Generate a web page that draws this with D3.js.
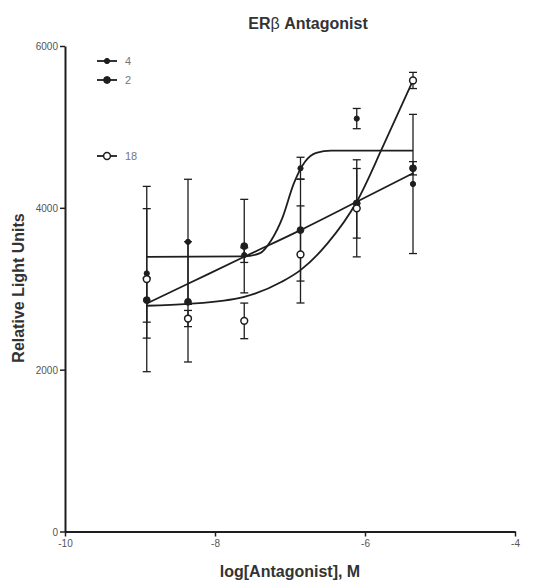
<!DOCTYPE html>
<html>
<head>
<meta charset="utf-8">
<script src="https://cdn.jsdelivr.net/npm/d3@7"></script>
<style>
  body { margin: 0; background: #fff; }
  svg { display: block; font-family: Arial, "Liberation Sans", sans-serif; }
</style>
</head>
<body>
<div id="chart"></div>
<script>
// concentrations, log[M]
const logConc = [-8.91, -8.36, -7.61, -6.86, -6.11, -5.36];

// mean relative light units per series
const series4 = [3190, 3580, 3416, 4489, 5103, 4295];
const series2 = [2860, 2838, 3527, 3725, 4056, 4489];
const series18 = [3120, 2632, 2603, 3424, 3994, 5574];

// error (SD) per series
const err4 = [800, 773, 91, 136, 125, 860];
const err2 = [273, 743, 578, 630, 430, 82];
const err18 = [1145, 100, 220, 600, 600, 100];

// fitted curves
const fit4X = [-8.91, -7.61, -7.4, -7.25, -7.1, -6.95, -6.8, -6.65, -6.45, -5.36];
const fit4Y = [3395, 3400, 3440, 3600, 3880, 4300, 4570, 4680, 4707, 4707];
const fit2X = [-8.91, -8.36, -7.61, -6.86, -6.11, -5.36];
const fit2Y = [2818, 3062, 3395, 3725, 4075, 4427];
const fit18X = [-8.91, -8.36, -7.61, -7.11, -6.86, -6.5, -6.11, -5.75, -5.36];
const fit18Y = [2790, 2812, 2900, 3086, 3230, 3560, 4075, 4780, 5574];

const xTicks = [-10, -8, -6, -4];
const yTicks = [0, 2000, 4000, 6000];

const width = 559;
const height = 580;
const ink = "#1e1e1e";

const svg = d3.select("#chart").append("svg")
    .attr("width", width)
    .attr("height", height);

const x = d3.scaleLinear().domain([-10, -4]).range([65, 515]);
const y = d3.scaleLinear().domain([0, 6000]).range([531.5, 46]);

// plain hyphen minus like the original
const fmt = d => String(d);

// title
const title = svg.append("text")
    .attr("x", 308)
    .attr("y", 29)
    .attr("text-anchor", "middle")
    .style("font-size", "16px")
    .style("font-weight", "bold")
    .style("fill", "#333");
title.append("tspan").text("ER");
title.append("tspan").style("font-weight", "normal").text("β");
title.append("tspan").text(" Antagonist");

// axes
const xAxis = svg.append("g")
    .attr("transform", `translate(0,${y(0)})`)
    .call(d3.axisBottom(x).tickValues(xTicks).tickFormat(fmt).tickSize(5).tickPadding(3).tickSizeOuter(0));
const yAxis = svg.append("g")
    .attr("transform", `translate(${x(-10)},0)`)
    .call(d3.axisLeft(y).tickValues(yTicks).tickFormat(fmt).tickSize(5).tickPadding(2).tickSizeOuter(0));

[xAxis, yAxis].forEach(g => {
    g.select(".domain").attr("stroke", ink).attr("stroke-width", 2);
    g.selectAll(".tick line").attr("stroke", ink).attr("stroke-width", 1.5);
    g.selectAll(".tick text")
        .attr("fill", "#555")
        .style("font-size", "10px")
        .style("font-family", "Arial, 'Liberation Sans', sans-serif");
});
yAxis.selectAll(".tick text").attr("dy", "0.35em");

// axis titles
svg.append("text")
    .attr("x", 290)
    .attr("y", 577)
    .attr("text-anchor", "middle")
    .style("font-size", "16px")
    .style("font-weight", "bold")
    .style("fill", "#333")
    .text("log[Antagonist], M");

svg.append("text")
    .attr("transform", "translate(23.5,288) rotate(-90)")
    .attr("text-anchor", "middle")
    .style("font-size", "16px")
    .style("font-weight", "bold")
    .style("fill", "#333")
    .text("Relative Light Units");

// fitted curves
const line = d3.line()
    .x(d => x(d[0]))
    .y(d => y(d[1]))
    .curve(d3.curveMonotoneX);

[[fit4X, fit4Y], [fit2X, fit2Y], [fit18X, fit18Y]].forEach(([fx, fy]) => {
    svg.append("path")
        .datum(fx.map((v, i) => [v, fy[i]]))
        .attr("d", line)
        .attr("fill", "none")
        .attr("stroke", ink)
        .attr("stroke-width", 1.8);
});

const seriesList = [
    { name: "4", values: series4, err: err4, r: 2.6, open: false, legendY: 61 },
    { name: "2", values: series2, err: err2, r: 3.4, open: false, legendY: 80 },
    { name: "18", values: series18, err: err18, r: 3.4, open: true, legendY: 156 }
];

// error bars
seriesList.forEach(s => {
    const g = svg.append("g");
    const data = logConc.map((c, i) => ({ c, v: s.values[i], e: s.err[i] }));
    g.selectAll("line.bar")
        .data(data)
        .join("line")
        .attr("x1", d => x(d.c))
        .attr("x2", d => x(d.c))
        .attr("y1", d => y(d.v + d.e))
        .attr("y2", d => y(d.v - d.e))
        .attr("stroke", ink)
        .attr("stroke-width", 1.3);
    ["top", "bottom"].forEach(side => {
        g.selectAll("line." + side)
            .data(data)
            .join("line")
            .attr("class", side)
            .attr("x1", d => x(d.c) - 4)
            .attr("x2", d => x(d.c) + 4)
            .attr("y1", d => y(side === "top" ? d.v + d.e : d.v - d.e))
            .attr("y2", d => y(side === "top" ? d.v + d.e : d.v - d.e))
            .attr("stroke", ink)
            .attr("stroke-width", 1.3);
    });
});

// points
seriesList.forEach(s => {
    svg.append("g")
        .selectAll("circle")
        .data(logConc.map((c, i) => [c, s.values[i]]))
        .join("circle")
        .attr("cx", d => x(d[0]))
        .attr("cy", d => y(d[1]))
        .attr("r", s.r)
        .attr("fill", s.open ? "#fff" : ink)
        .attr("stroke", ink)
        .attr("stroke-width", s.open ? 1.5 : 1);
});

// legend
seriesList.forEach(s => {
    const g = svg.append("g").attr("transform", `translate(97,${s.legendY})`);
    g.append("line")
        .attr("x1", 0).attr("x2", 20)
        .attr("stroke", ink)
        .attr("stroke-width", 1.8);
    g.append("circle")
        .attr("cx", 10)
        .attr("r", s.r)
        .attr("fill", s.open ? "#fff" : ink)
        .attr("stroke", ink)
        .attr("stroke-width", s.open ? 1.5 : 1);
    g.append("text")
        .attr("x", 28)
        .attr("dy", "0.35em")
        .style("font-size", "11px")
        .style("fill", "#777")
        .text(s.name);
});
</script>
</body>
</html>
